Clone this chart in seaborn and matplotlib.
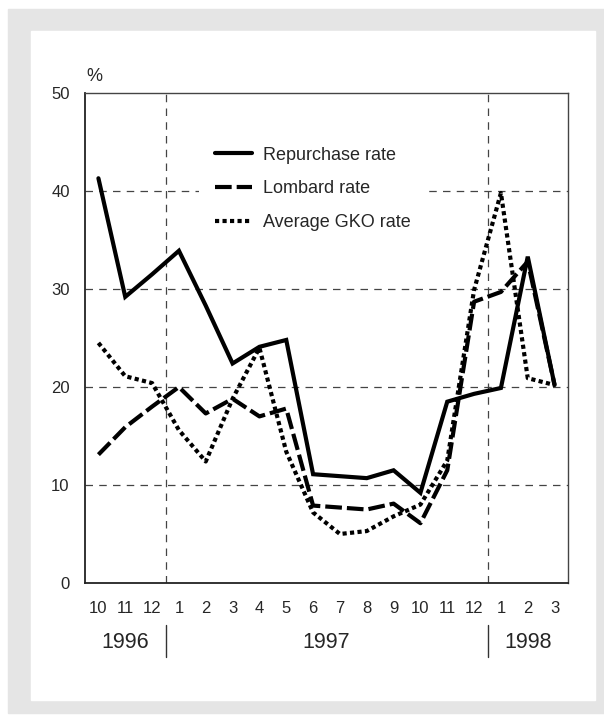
import numpy as np
import pandas as pd
import matplotlib
matplotlib.use("Agg")
import matplotlib.pyplot as plt
import matplotlib.transforms as mtransforms
from matplotlib.patches import Rectangle
import seaborn as sns

# month labels along the x axis (Oct 1996 .. Mar 1998)
months = ['10', '11', '12', '1', '2', '3', '4', '5', '6', '7', '8', '9',
          '10', '11', '12', '1', '2', '3']
years = ['1996', '1997', '1998']
year_centers = [1, 8.5, 16]
year_breaks = [2.5, 14.5]

# rates, %
repo_rate = [41.3, 29.2, 31.5, 33.9, 28.3, 22.4, 24.1, 24.8, 11.1, 10.9,
             10.7, 11.5, 9.2, 18.5, 19.3, 19.9, 33.3, 20.2]
lombard_rate = [13.1, 15.9, 18.0, 20.0, 17.3, 18.8, 17.0, 17.8, 7.9, 7.7,
                7.5, 8.1, 6.1, 11.5, 28.7, 29.7, 32.8, 20.2]
gko_rate = [24.5, 21.1, 20.4, 15.6, 12.4, 18.8, 24.0, 13.4, 7.2, 5.0,
            5.3, 6.8, 8.0, 12.5, 29.9, 39.8, 20.9, 20.2]

df = pd.DataFrame({'pos': np.arange(len(months)),
                   'repo': repo_rate, 'lombard': lombard_rate, 'gko': gko_rate})

sns.set_style("white")
plt.rcParams['font.family'] = ['Liberation Sans', 'DejaVu Sans']

fig = plt.figure(figsize=(6.04, 7.15), dpi=100)
fig.patch.set_facecolor('white')
# grey frame with white panel
fig.patches.append(Rectangle((8 / 604, 2 / 715), 596 / 604, 704 / 715,
                             transform=fig.transFigure, color='#e5e5e5', zorder=-2))
fig.patches.append(Rectangle((31 / 604, 15 / 715), 564 / 604, 669 / 715,
                             transform=fig.transFigure, color='white', zorder=-1))

ax = fig.add_axes([85 / 604, 132 / 715, 483 / 604, 490 / 715])
ax.set_facecolor('none')

lw = 3
sns.lineplot(data=df, x='pos', y='repo', ax=ax, color='black', lw=lw,
             label='Repurchase rate', solid_joinstyle='miter')
sns.lineplot(data=df, x='pos', y='lombard', ax=ax, color='black', lw=lw,
             linestyle=(0, (4, 1.2)), dash_capstyle='butt', label='Lombard rate')
sns.lineplot(data=df, x='pos', y='gko', ax=ax, color='black', lw=lw,
             linestyle=(0, (1, 0.8)), dash_capstyle='butt', label='Average GKO rate')

ax.set_xlim(-0.5, len(months) - 0.5)
ax.set_ylim(0, 50)
ax.set_xlabel('')
ax.set_ylabel('')

# major ticks at month boundaries, labels at month centres
ax.set_xticks(np.arange(-0.5, len(months), 1))
ax.set_xticklabels([])
ax.set_xticks(np.arange(len(months)), minor=True)
ax.set_xticklabels(months, minor=True, fontsize=12)
ax.tick_params(axis='x', which='major', direction='out', length=8, width=1, color='#333333')
ax.tick_params(axis='x', which='minor', length=0, pad=13)
ax.set_yticks([0, 10, 20, 30, 40, 50])
ax.tick_params(axis='y', direction='out', length=8, width=1, color='#333333', pad=3,
               labelsize=12)

for y in [10, 20, 30, 40]:
    ax.axhline(y, color='#444444', lw=0.9, linestyle=(0, (6, 5)), zorder=0)
for x in year_breaks:
    ax.axvline(x, color='#444444', lw=0.9, linestyle=(0, (6, 5)), zorder=0)

for side in ['left', 'bottom']:
    ax.spines[side].set_color('#222222')
    ax.spines[side].set_linewidth(1.3)
for side in ['top', 'right']:
    ax.spines[side].set_color('#444444')
    ax.spines[side].set_linewidth(1.0)

trans = mtransforms.blended_transform_factory(ax.transData, ax.transAxes)
for x in year_breaks:
    ax.plot([x, x], [-0.086, -0.151], color='#333333', lw=1, transform=trans, clip_on=False)
for lab, xc in zip(years, year_centers):
    ax.text(xc, -0.122, lab, transform=trans, ha='center', va='center', fontsize=15.5)

ax.text(0.02, 1.033, '%', transform=ax.transAxes, ha='center', va='center', fontsize=13)

# white legend box hides the grid line behind the labels
leg = ax.legend(loc='upper left', bbox_to_anchor=(0.236, 0.9235), frameon=True,
                fancybox=False, facecolor='white', edgecolor='none', framealpha=1,
                fontsize=13, handlelength=2.05, handletextpad=0.6, labelspacing=0.92,
                borderpad=0.9, borderaxespad=0)
leg.set_zorder(5)

fig.savefig('out.png', dpi=100)
